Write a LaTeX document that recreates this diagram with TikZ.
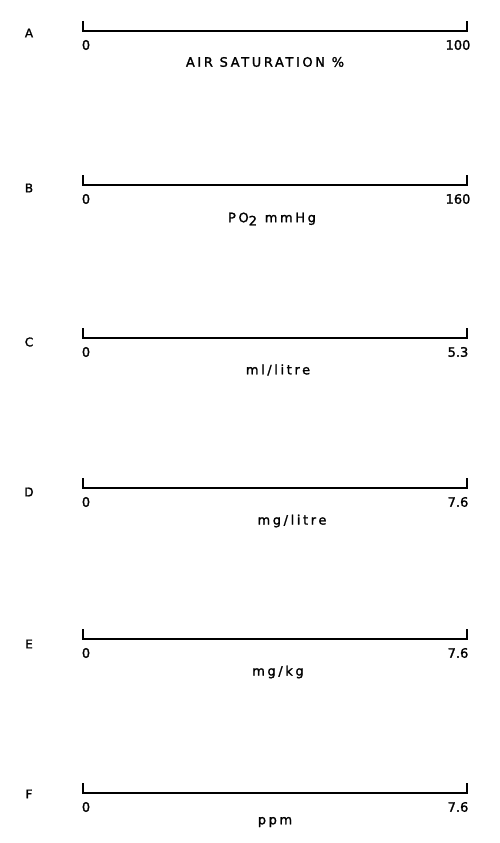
\documentclass[tikz,border=0pt]{standalone}
\usepackage{fontspec}
\setmainfont[FakeBold=1.6]{DejaVu Sans}
\usepackage{tikz}
\usetikzlibrary{calc}

\begin{document}
\begin{tikzpicture}[x=1pt,y=1pt,
  every node/.style={font=\addfontfeature{LetterSpace=20}\fontsize{13}{15}\selectfont},
  lett/.style={inner sep=0pt,anchor=center,font=\fontsize{12}{14}\selectfont},
  num/.style={inner sep=0pt,anchor=center,font=\fontsize{13}{15}\selectfont},
  unit/.style={inner sep=0pt,anchor=center},
  bar/.style={line width=1.5pt,line cap=butt,line join=miter}]
 \useasboundingbox (0,0) rectangle (500,-843);
 % scales: name / height of bar / top value / height of letter
 \foreach \n/\y/\m/\ly in {A/31/100/33,B/185/160/188,C/338/5.3/342,D/488/7.6/492,E/639/7.6/644,F/793/7.6/794} {
   \coordinate (\n l) at (83,-\y);
   \coordinate (\n r) at (467,-\y);
   \coordinate (\n lt) at (83,-\y+10);
   \coordinate (\n rt) at (467,-\y+10);
   \draw[bar] (\n lt)--(\n l)--(\n r)--(\n rt);
   \node[lett] (\n) at (29,-\ly) {\n};
   \node[num] (\n 0) at (86,-\y-14) {0};
   \node[num] (\n m) at (458,-\y-14) {\m};
 }
 \node[unit] (uA) at (265,-62) {AIR SATURATION \%};
 \node[unit] (uB) at (272,-219) {PO\raisebox{-0.45ex}{2}\hspace{0.6em}mmHg};
 \node[unit] (uC) at (278,-370) {ml/litre};
 \node[unit] (uD) at (292,-521) {mg/litre};
 \node[unit] (uE) at (278,-672) {mg/kg};
 \node[unit] (uF) at (275,-822) {ppm};
\end{tikzpicture}
\end{document}
